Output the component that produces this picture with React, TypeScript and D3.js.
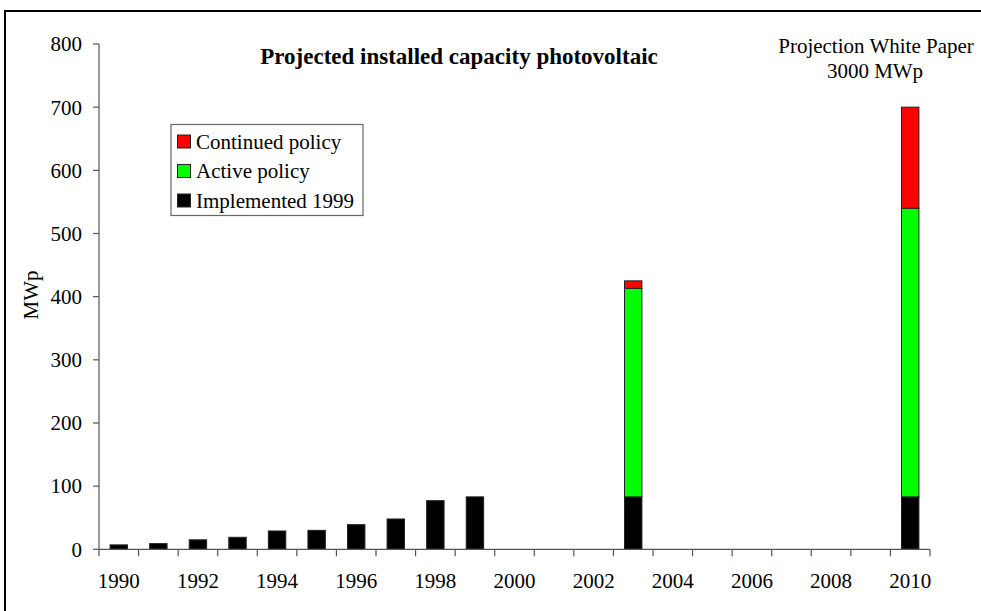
import React from "react";
import * as d3 from "d3";

// Installed photovoltaic capacity (MWp) per year
const years: number[] = [1990, 1991, 1992, 1993, 1994, 1995, 1996, 1997, 1998, 1999, 2000, 2001, 2002, 2003, 2004, 2005, 2006, 2007, 2008, 2009, 2010];
const implemented1999: number[] = [7, 9, 15, 19, 29, 30, 39, 48, 77, 83, 0, 0, 0, 83, 0, 0, 0, 0, 0, 0, 83];
const activePolicy: number[] = [0, 0, 0, 0, 0, 0, 0, 0, 0, 0, 0, 0, 0, 330, 0, 0, 0, 0, 0, 0, 457];
const continuedPolicy: number[] = [0, 0, 0, 0, 0, 0, 0, 0, 0, 0, 0, 0, 0, 12, 0, 0, 0, 0, 0, 0, 160];

const yTicks: number[] = [0, 100, 200, 300, 400, 500, 600, 700, 800];
const xLabelYears: number[] = [1990, 1992, 1994, 1996, 1998, 2000, 2002, 2004, 2006, 2008, 2010];

const seriesNames = ["Implemented 1999", "Active policy", "Continued policy"];
const seriesColors = ["#000000", "#00ff00", "#ff0000"];
const legendOrder = [2, 1, 0];

const W = 981;
const H = 611;
const FONT = "'Liberation Serif', 'Times New Roman', serif";
const FS = 21;

export default function App() {
  const x = d3.scaleBand<number>().domain(years).range([99, 930]).paddingInner(0.56).paddingOuter(0.28);
  const y = d3.scaleLinear().domain([0, 800]).range([549.3, 44]);
  const step = x.step();
  const bw = x.bandwidth();
  const gap = (step - bw) / 2;

  const table = years.map((yr, i) => ({
    year: yr,
    s0: implemented1999[i],
    s1: activePolicy[i],
    s2: continuedPolicy[i],
  }));
  const stacked = d3.stack<any>().keys(["s0", "s1", "s2"])(table);

  const tickXs = years.map((yr) => (x(yr) as number) - gap);
  tickXs.push((x(years[years.length - 1]) as number) + bw + gap);

  const axisColor = "#555";

  return (
    <svg width={W} height={H} style={{ position: "absolute", left: 0, top: 0, background: "#fff" }} fontFamily={FONT}>
      <rect x={0} y={0} width={W} height={H} fill="#fff" />
      {/* outer frame */}
      <rect x={5} y={11} width={W + 10} height={H + 10} fill="none" stroke="#000" strokeWidth={2} />

      {/* bars */}
      {stacked.map((layer, si) =>
        layer.map((d, i) => {
          const v = d[1] - d[0];
          if (!v) return null;
          return (
            <rect
              key={`${si}-${i}`}
              x={x(years[i]) as number}
              y={y(d[1])}
              width={bw}
              height={y(d[0]) - y(d[1])}
              fill={seriesColors[si]}
              stroke="#222"
              strokeWidth={1}
            />
          );
        })
      )}

      {/* y axis */}
      <line x1={99} x2={99} y1={y(800)} y2={y(0)} stroke={axisColor} strokeWidth={1.2} />
      {yTicks.map((t) => (
        <g key={t}>
          <line x1={93} x2={99} y1={y(t)} y2={y(t)} stroke={axisColor} strokeWidth={1.2} />
          <text x={82} y={y(t)} dy="0.35em" textAnchor="end" fontSize={FS} fill="#000">
            {t}
          </text>
        </g>
      ))}

      {/* x axis */}
      <line x1={99} x2={930} y1={y(0)} y2={y(0)} stroke={axisColor} strokeWidth={1.2} />
      {tickXs.map((tx, i) => (
        <line key={i} x1={tx} x2={tx} y1={y(0)} y2={y(0) + 7} stroke={axisColor} strokeWidth={1.2} />
      ))}
      {xLabelYears.map((yr) => (
        <text key={yr} x={(x(yr) as number) + bw / 2} y={588} textAnchor="middle" fontSize={FS} fill="#000">
          {yr}
        </text>
      ))}

      {/* axis title */}
      <text transform="translate(38,295) rotate(-90)" textAnchor="middle" fontSize={FS} fill="#000">
        MWp
      </text>

      {/* chart title */}
      <text x={459} y={64} textAnchor="middle" fontSize={23} fontWeight="bold" fill="#000">
        Projected installed capacity photovoltaic
      </text>

      {/* annotation */}
      <text x={876} y={53} textAnchor="middle" fontSize={FS} fill="#000">
        Projection White Paper
      </text>
      <text x={875} y={78} textAnchor="middle" fontSize={FS} fill="#000">
        3000 MWp
      </text>

      {/* legend */}
      <rect x={171} y={124.5} width={192} height={91} fill="#fff" stroke="#666" strokeWidth={1.2} />
      {legendOrder.map((si, row) => {
        const cy = 141.5 + row * 29.5;
        return (
          <g key={si}>
            <rect x={177.5} y={cy - 6.5} width={13} height={13} fill={seriesColors[si]} stroke="#222" strokeWidth={1} />
            <text x={196} y={cy} dy="0.35em" fontSize={FS} fill="#000">
              {seriesNames[si]}
            </text>
          </g>
        );
      })}
    </svg>
  );
}
